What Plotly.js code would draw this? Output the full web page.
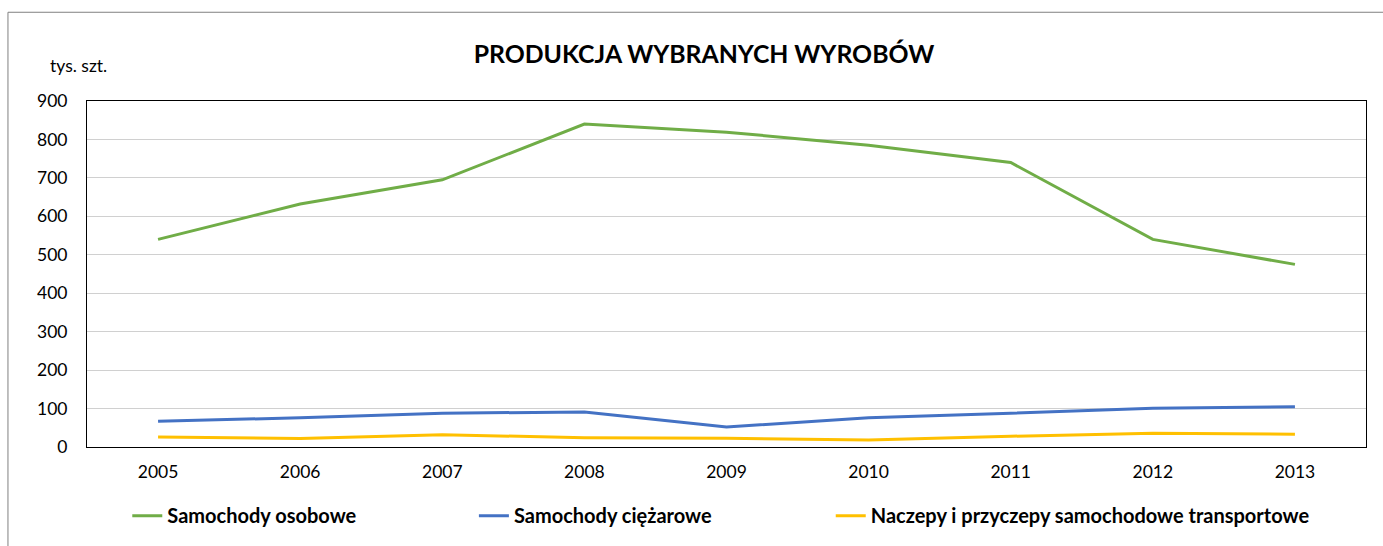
<!DOCTYPE html>
<html><head><meta charset="utf-8">
<script src="https://cdn.plot.ly/plotly-3.0.1.min.js"></script>
<style>html,body{margin:0;padding:0;background:#fff}#chart{width:1383px;height:546px}</style>
</head><body><div id="chart"></div>
<script>
const years = ['2005','2006','2007','2008','2009','2010','2011','2012','2013'];
const osobowe = [540, 632, 695, 840, 819, 785, 740, 540, 475];
const ciezarowe = [67, 76, 88, 91, 52, 76, 88, 101, 105];
const naczepy = [26, 22, 32, 24, 23, 18, 28, 36, 33];
const seriesNames = ['Samochody osobowe', 'Samochody ciężarowe', 'Naczepy i przyczepy samochodowe transportowe'];
const yTicks = [0,100,200,300,400,500,600,700,800,900];

const FONT = 'Lato, "Open Sans", sans-serif';
const mk = (y, name, color, leg) => ({x: years, y: y, name: name, type: 'scatter', mode: 'lines',
  line: {color: color, width: 3}, hoverinfo: 'skip', legend: leg});
const data = [
  mk(osobowe, seriesNames[0], '#70ad47', 'legend'),
  mk(ciezarowe, seriesNames[1], '#4472c4', 'legend2'),
  mk(naczepy, seriesNames[2], '#ffc000', 'legend3')
];
const legFont = {family: FONT, size: 20, color: '#000', weight: 'bold'};
const leg = (x) => ({orientation: 'h', x: x, xanchor: 'left', y: -0.195, yanchor: 'middle',
  font: legFont, bgcolor: 'rgba(0,0,0,0)'});
const layout = {
  width: 1383, height: 546,
  margin: {l: 87, r: 17, t: 101, b: 98},
  paper_bgcolor: '#fff', plot_bgcolor: '#fff',
  font: {family: FONT, size: 17, color: '#000'},
  title: {text: '<b>PRODUKCJA WYBRANYCH WYROBÓW</b>', x: 0.509, xanchor: 'center', y: 0.9, yanchor: 'middle',
    font: {family: FONT, size: 24.8, color: '#000'}},
  showlegend: true,
  legend: leg(0.0315),
  legend2: leg(0.3025),
  legend3: leg(0.5815),
  xaxis: {type: 'category', range: [-0.5, 8.5], showgrid: false, zeroline: false,
    showline: true, mirror: true, linecolor: '#000', linewidth: 1, ticks: '',
    tickfont: {family: FONT, size: 17.5}, ticklabelstandoff: 9, fixedrange: true},
  yaxis: {range: [0, 900], tickvals: yTicks, ticktext: yTicks.map(String), showgrid: true, gridcolor: '#d0d0d0', gridwidth: 1,
    zeroline: false, showline: true, mirror: true, linecolor: '#000', linewidth: 1, ticks: '',
    tickfont: {family: FONT, size: 17.5}, ticklabelstandoff: 15, fixedrange: true},
  annotations: [{text: 'tys. szt.', xref: 'paper', yref: 'paper', x: -0.0063, y: 1.104, xanchor: 'center', yanchor: 'middle',
    showarrow: false, font: {family: FONT, size: 17.5, color: '#000'}}],
  shapes: [{type: 'rect', xref: 'paper', yref: 'paper', x0: -0.0618, x1: 1.03, y0: -0.4, y1: 1.2565,
    line: {color: '#808080', width: 1}, fillcolor: 'rgba(0,0,0,0)', layer: 'below'}]
};
Plotly.newPlot('chart', data, layout, {displayModeBar: false, staticPlot: true});
</script></body></html>
